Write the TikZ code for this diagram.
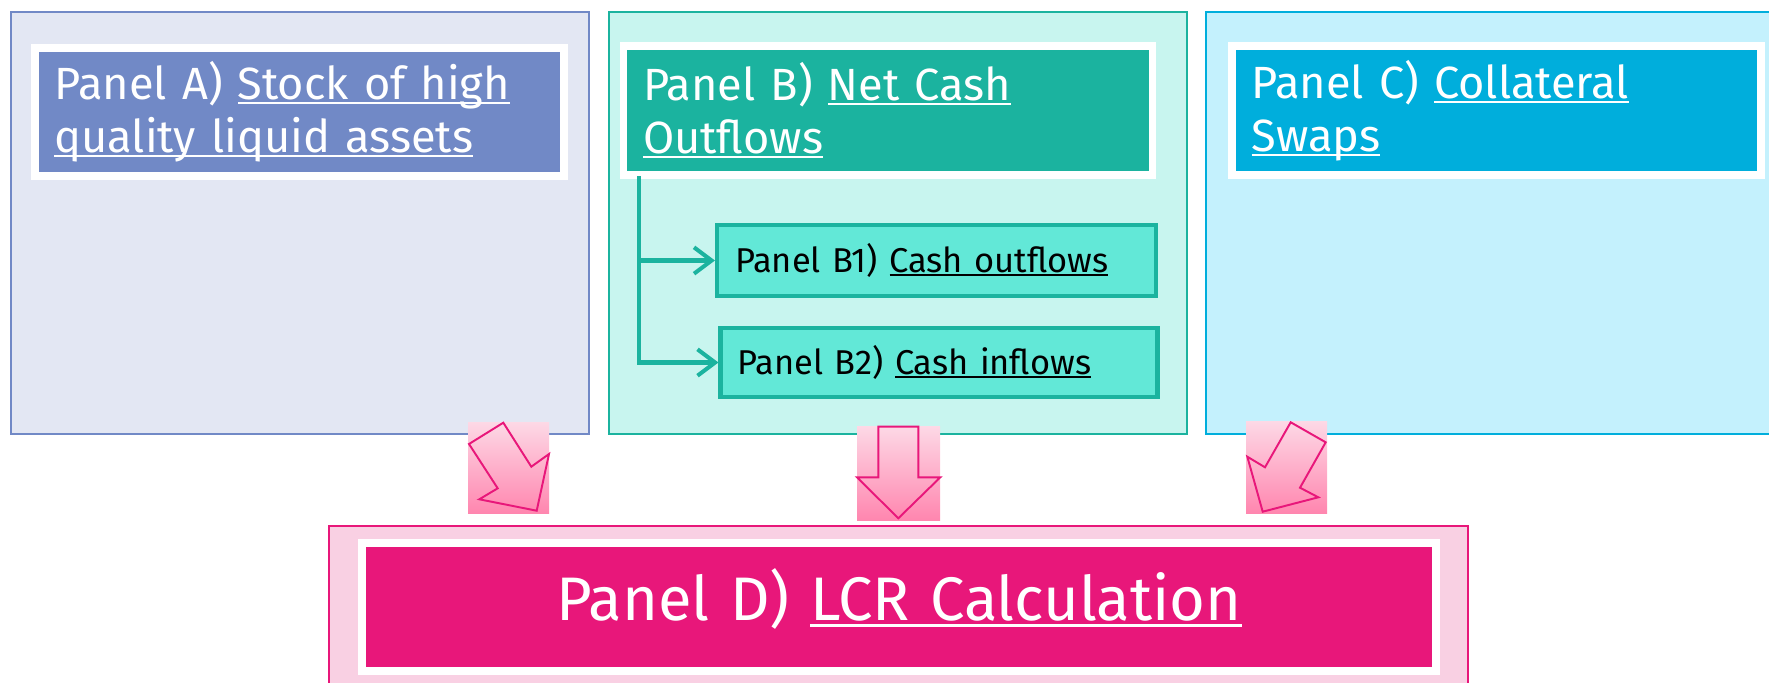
\documentclass[tikz,border=0pt]{standalone}
\usepackage{fontspec}
\setmainfont{Fira Sans}
\usetikzlibrary{arrows.meta}

\newcommand{\uln}[1]{\leavevmode\begingroup\setbox0=\hbox{#1}\rlap{\rule[-0.1em]{\wd0}{0.045em}}\box0\endgroup}

\definecolor{fillA}{HTML}{E3E7F3}
\definecolor{lineA}{HTML}{7189C6}
\definecolor{fillB}{HTML}{C8F5EF}
\definecolor{lineB}{HTML}{1BB39F}
\definecolor{boxB}{HTML}{62E8D7}
\definecolor{fillC}{HTML}{C4F1FD}
\definecolor{lineC}{HTML}{00AEDC}
\definecolor{fillD}{HTML}{F9D0E3}
\definecolor{lineD}{HTML}{E8177A}
\definecolor{arrTop}{HTML}{FDD9E6}
\definecolor{arrBot}{HTML}{FF86AF}

\tikzset{
    panelbox/.style={line width=1.1pt},
    header/.style={rectangle, draw=white, line width=4.5pt, fill=#1, text=white,
        minimum width=105.8mm, minimum height=25.7mm, text width=98mm,
        inner xsep=3.9mm, align=left, font=\fontsize{25.7}{30.2}\selectfont},
    subbox/.style={rectangle, draw=lineB, line width=2.3pt, fill=boxB, text=black,
        minimum height=14.2mm, text width=80.6mm, inner xsep=3.4mm, align=left,
        font=\fontsize{19.6}{22}\selectfont},
    feed/.style={draw=lineB, line width=2.3pt, -{Straight Barb[length=10pt,width=15pt]}},
    arrline/.style={draw=lineD, line width=1.1pt, line join=miter},
}

\begin{document}
\begin{tikzpicture}[x=0.2mm, y=-0.2mm]

            \useasboundingbox (0,0) rectangle (1769,682);
            \clip (0,0) rectangle (1769,682);

            \draw [panelbox, draw=lineA, fill=fillA] (11,12) rectangle (589,434);
            \draw [panelbox, draw=lineB, fill=fillB] (609,12) rectangle (1187,434);
            \draw [panelbox, draw=lineC, fill=fillC] (1206,12) rectangle (1800,434);
            \draw [panelbox, draw=lineD, fill=fillD] (329,526) rectangle (1468,720);

            \node [header=lineA] (headA) at (299.5,112) {Panel A) \uln{Stock of high}\\\uln{quality liquid assets}};
            \node [header=lineB] (headB) at (888,110.5) {Panel B) \uln{Net Cash}\\\uln{Outflows}};
            \node [header=lineC] (headC) at (1496.5,110.5) {Panel C) \uln{Collateral}\\\uln{Swaps}};
            \node [header=lineD, minimum width=214.8mm, text width=206mm, align=center, text depth=14pt,
                font=\fontsize{35}{40}\selectfont] (headD) at (899,607) {Panel D) \uln{LCR Calculation}};

            \node [subbox, minimum width=87.8mm] (cashOut) at (936.5,260.5) {Panel B1) \uln{Cash outflows}};
            \node [subbox, minimum width=87.2mm, minimum height=13.8mm] (cashIn) at (939,362.5) {Panel B2) \uln{Cash inflows}};

            \coordinate (trunk) at (639,176);
            \draw [feed] (trunk) |- (cashOut.west);
            \draw [feed] (trunk) |- (cashIn.west);

            \shade [top color=arrTop, bottom color=arrBot] (468,422) rectangle (549,513);
            \draw [arrline] (503.3,422.7) -- (469,444) -- (497.7,488.3) -- (479.3,499.3) -- (536.7,510.7) -- (549,454) -- (531.3,466.7) -- cycle;

            \shade [top color=arrTop, bottom color=arrBot] (857,426) rectangle (940,520);
            \draw [arrline] (878.3,426.7) -- (918.3,426.7) -- (918.3,477.3) -- (940.3,477.3) -- (898.3,518.3) -- (857,477.3) -- (878.3,477.3) -- cycle;

            \shade [top color=arrTop, bottom color=arrBot] (1246,421) rectangle (1327,513);
            \draw [arrline] (1290.7,422.3) -- (1325.7,442.3) -- (1300,487.7) -- (1318.3,497.3) -- (1262.7,511.7) -- (1247.3,456.7) -- (1265,467.3) -- cycle;

\end{tikzpicture}
\end{document}
